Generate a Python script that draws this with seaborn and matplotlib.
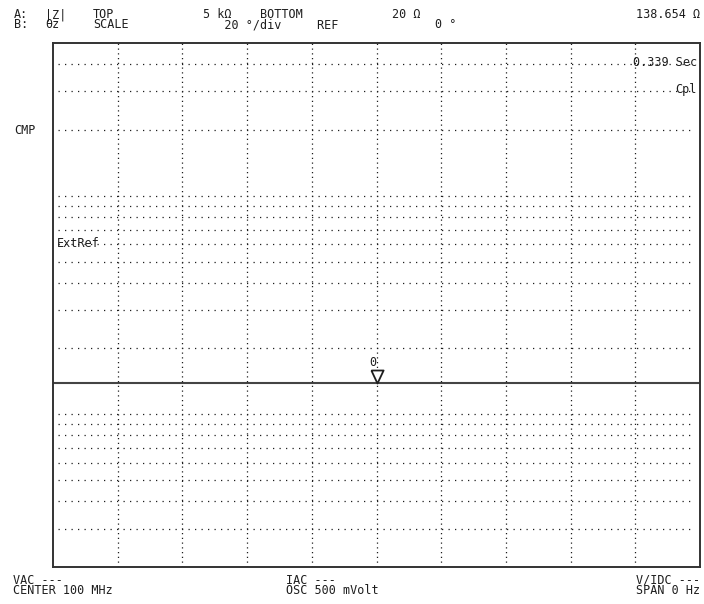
import numpy as np
import pandas as pd
import matplotlib
matplotlib.use("Agg")
import matplotlib.pyplot as plt
import seaborn as sns

# trace A: |Z| over the 10 divisions (span 0 Hz -> flat line)
sweep_div = [0, 10]
z_mag = [138.654, 138.654]

# marker 0 at centre
marker_div = [5]
marker_z = [138.654]
marker_label = "0"

# scale A: log, TOP 5 kOhm / BOTTOM 20 Ohm
z_top = 5000
z_bottom = 20
log_grid = [30, 40, 50, 60, 70, 80, 90, 100,
            200, 300, 400, 500, 600, 700, 800, 900,
            1000, 2000, 3000, 4000]
div_grid = [1, 2, 3, 4, 5, 6, 7, 8, 9]

# screen annotations (two-row blocks share one text)
header_blocks = ["A:\nB:", "|Z|\nθz", "TOP\nSCALE",
                 "5 kΩ    BOTTOM\n   20 °/div     REF"]
header_top = ["20 Ω", "138.654 Ω"]
header_bot = ["0 °"]
footer_blocks = ["VAC ---\nCENTER 100 MHz", "IAC ---\nOSC 500 mVolt",
                 "V/IDC ---\nSPAN 0 Hz"]
side_labels = ["CMP", "ExtRef", "0.339 Sec", "Cpl"]

W, H = 704, 604
ink = "#1e1e1e"
fs = 8.5

sns.set_style("white")
plt.rcParams["font.family"] = ["DejaVu Sans Mono", "DejaVu Sans"]

fig = plt.figure(figsize=(W / 100, H / 100), dpi=100)
ax = fig.add_axes([53 / W, 1 - 567 / H, 647 / W, 524 / H])

df = pd.DataFrame({"div": sweep_div, "z": z_mag})
sns.lineplot(data=df, x="div", y="z", ax=ax, color="#444444", lw=1.5)

ax.set_yscale("log")
ax.set_ylim(z_bottom, z_top)
ax.set_xlim(0, 10)
ax.set_xticks([])
ax.set_yticks([])
ax.minorticks_off()
ax.set_xlabel("")
ax.set_ylabel("")

# dotted graticule
ax.hlines(log_grid, 0.008, 0.992, transform=ax.get_yaxis_transform(),
          colors=ink, lw=0.9, linestyles=(0, (1, 4.2)))
ax.vlines(div_grid, 0, 1, transform=ax.get_xaxis_transform(),
          colors=ink, lw=0.9, linestyles=(0, (1, 2.8)))

for sp in ax.spines.values():
    sp.set_visible(True)
    sp.set_color("#333333")
    sp.set_linewidth(1.4)

# marker: open triangle with its tip on the trace, number above
tri = [(-0.47, 1.0), (0.47, 1.0), (0.0, 0.0), (-0.47, 1.0)]
mk = pd.DataFrame({"div": marker_div, "z": marker_z})
sns.scatterplot(data=mk, x="div", y="z", ax=ax, marker=tri, s=350,
                facecolor="white", edgecolor=ink, linewidth=1.3, zorder=5)
ax.annotate(marker_label, (marker_div[0], marker_z[0]), xytext=(-3, 12.5),
            textcoords="offset points", ha="center", va="baseline",
            fontsize=fs, color=ink)


def put(s, x, y, ha="left"):
    # x, y in picture pixels from the top-left; y is the last baseline
    fig.text(x / W, 1 - y / H, s, ha=ha, va="baseline", fontsize=fs,
             color=ink, linespacing=0.68, multialignment=ha)


# header
for s, x in zip(header_blocks, [14, 45, 93, 203]):
    put(s, x, 28)
put(header_top[0], 392, 18.5)
put(header_top[1], 700, 18.5, ha="right")
put(header_bot[0], 435, 28)

# footer
put(footer_blocks[0], 13, 593.5)
put(footer_blocks[1], 286, 593.5)
put(footer_blocks[2], 700, 593.5, ha="right")

# side / in-grid labels
put(side_labels[0], 14, 134)
put(side_labels[1], 57, 247)
put(side_labels[2], 697, 65.5, ha="right")
put(side_labels[3], 697, 93, ha="right")

fig.savefig("out.png", dpi=100, facecolor="white")
